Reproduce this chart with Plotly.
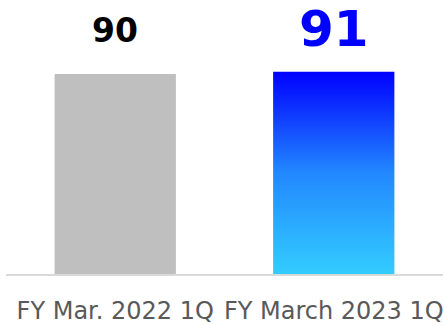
import plotly.graph_objects as go

# Quarterly figures
categories = ["FY Mar. 2022 1Q", "FY March 2023 1Q"]
values = [90, 91]
bar_width = 0.555

positions = list(range(len(categories)))

fig = go.Figure()

# Previous-year bar: flat gray
fig.add_trace(go.Bar(
    x=[positions[0]], y=[values[0]], width=bar_width,
    marker=dict(color="#bfbfbf", line=dict(width=0)),
    hoverinfo="skip", showlegend=False,
))

# Current-year bar: vertical blue gradient, drawn as a filled outline
x0 = positions[1] - bar_width / 2
x1 = positions[1] + bar_width / 2
fig.add_trace(go.Scatter(
    x=[x0, x1, x1, x0, x0],
    y=[0, 0, values[1], values[1], 0],
    mode="lines", line=dict(width=0), fill="toself",
    fillgradient=dict(
        type="vertical",
        colorscale=[[0, "#33ccff"], [0.5, "#2288ff"], [1, "#0000ff"]],
        start=0, stop=values[1],
    ),
    hoverinfo="skip", showlegend=False,
))

# Value labels above the bars
fig.add_annotation(x=positions[0], y=values[0], text=f"<b>{values[0]}</b>",
                   showarrow=False, yanchor="middle", yshift=44,
                   font=dict(family="DejaVu Sans", size=33, color="#000000"))
fig.add_annotation(x=positions[1], y=values[1], text=f"<b>{values[1]}</b>",
                   showarrow=False, yanchor="middle", yshift=43,
                   font=dict(family="DejaVu Sans", size=50, color="#0000ff"))

fig.update_layout(
    width=444, height=325,
    margin=dict(l=6, r=1, t=8, b=51),
    paper_bgcolor="white", plot_bgcolor="white",
    xaxis=dict(
        range=[-0.5, len(categories) - 0.5],
        tickvals=positions, ticktext=categories,
        showgrid=False, zeroline=False,
        showline=True, linecolor="#d9d9d9", linewidth=2,
        ticks="", ticklabelstandoff=14,
        tickfont=dict(family="DejaVu Sans", size=24, color="#595959"),
    ),
    yaxis=dict(range=[0, 119.7], visible=False, showgrid=False, zeroline=False),
)

fig.write_html("out.html")
